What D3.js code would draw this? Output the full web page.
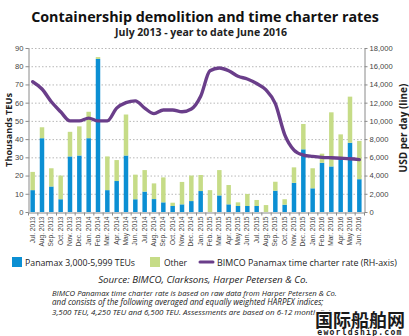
<!doctype html>
<html lang="en">
<head>
<meta charset="UTF-8">
<title>Containership demolition</title>
<style>
  body { margin: 0; background: #fff; }
  svg { display: block; font-family: "Open Sans", "Noto Sans", sans-serif; }
  .grid line { stroke: #b8b8b8; stroke-dasharray: 1.5 2; }
  .axis path, .axis line { stroke: #8a8a8a; }
  .axis text { fill: #444; font-size: 7.6px; }
  .xaxis text { font-size: 6.6px; }
</style>
</head>
<body>
<svg width="409" height="336"></svg>
<script src="https://cdnjs.cloudflare.com/ajax/libs/d3/7.8.5/d3.min.js"></script>
<script>
var months = ['Jul. 2013','Aug. 2013','Sep. 2013','Oct. 2013','Nov. 2013','Dec. 2013',
  'Jan. 2014','Feb. 2014','Mar. 2014','Apr. 2014','May 2014','Jun. 2014',
  'Jul. 2014','Aug. 2014','Sep. 2014','Oct. 2014','Nov. 2014','Dec. 2014',
  'Jan. 2015','Feb. 2015','Mar. 2015','Apr. 2015','May 2015','Jun. 2015',
  'Jul. 2015','Aug. 2015','Sep. 2015','Oct. 2015','Nov. 2015','Dec. 2015',
  'Jan. 2016','Feb. 2016','Mar. 2016','Apr. 2016','May 2016','Jun. 2016'];

// thousands TEUs
var panamax = [12, 40.5, 14, 7, 30.5, 31, 40.5, 84, 12, 17, 31, 7,
  11.2, 7.1, 5.3, 3.3, 4.2, 6, 11.5, 0, 9.1, 4.2, 3.3, 3.3,
  3.3, 0, 11.7, 4, 16, 34.4, 13, 27, 25, 29, 38, 18];
var other = [10, 6, 10, 13, 13.5, 16, 14.5, 1, 18.5, 11.5, 22.5, 13.5,
  11.8, 8.6, 13.7, 1.8, 12.3, 14, 8.8, 12, 13.9, 10.6, 2, 6.6,
  3.3, 3.8, 4.9, 3, 8.5, 13.9, 11, 5, 29.7, 13.6, 25.3, 21];

// USD per day
var rate = [14300, 13500, 12100, 11000, 10000, 10000, 10300, 10000, 10000, 11400, 12000, 12200,
  11400, 10800, 11200, 11200, 11000, 11300, 12700, 15500, 15800, 15500, 14900, 14600,
  14100, 13400, 11900, 8500, 6800, 6250, 6100, 6000, 5950, 5900, 5850, 5750];

var leftTicks = [0, 10, 20, 30, 40, 50, 60, 70, 80, 90];
var rightTicks = [0, 2000, 4000, 6000, 8000, 10000, 12000, 14000, 16000, 18000];

var blue = '#0b8fd3', green = '#c6dc87', purple = '#6a3e8a';

var svg = d3.select('svg');
var plot = { left: 28, right: 364, top: 48, bottom: 212 };

var x = d3.scaleBand().domain(months).range([plot.left, plot.right])
  .paddingInner(0.52).paddingOuter(0.26);
var y = d3.scaleLinear().domain([0, 90]).range([plot.bottom, plot.top]);
var y2 = d3.scaleLinear().domain([0, 18000]).range([plot.bottom, plot.top]);

function fit(sel, w) {
  var n = sel.node(), fs = parseFloat(sel.attr('font-size'));
  var cur = n.getComputedTextLength();
  sel.attr('font-size', (fs * w / cur).toFixed(2));
}

// titles
svg.append('text').attr('x', 205).attr('y', 22).attr('text-anchor', 'middle')
  .attr('font-weight', 'bold').attr('font-size', 15).attr('fill', '#111')
  .text('Containership demolition and time charter rates').call(fit, 348);
svg.append('text').attr('x', 201).attr('y', 36).attr('text-anchor', 'middle')
  .attr('font-weight', 'bold').attr('font-size', 10).attr('fill', '#222')
  .text('July 2013 - year to date June 2016').call(fit, 172);

// grid
svg.append('g').attr('class', 'grid').selectAll('line')
  .data(leftTicks.slice(1)).enter().append('line')
  .attr('x1', plot.left).attr('x2', plot.right)
  .attr('y1', function(d) { return y(d) + 0.5; })
  .attr('y2', function(d) { return y(d) + 0.5; });

// bars
var bw = x.bandwidth();
svg.append('g').selectAll('rect').data(months).enter().append('rect')
  .attr('x', function(d) { return x(d); })
  .attr('width', bw)
  .attr('y', function(d, i) { return y(panamax[i]); })
  .attr('height', function(d, i) { return plot.bottom - y(panamax[i]); })
  .attr('fill', blue);
svg.append('g').selectAll('rect').data(months).enter().append('rect')
  .attr('x', function(d) { return x(d); })
  .attr('width', bw)
  .attr('y', function(d, i) { return y(panamax[i] + other[i]); })
  .attr('height', function(d, i) { return y(panamax[i]) - y(panamax[i] + other[i]); })
  .attr('fill', green);

// axes
svg.append('g').attr('class', 'axis')
  .attr('transform', 'translate(' + (plot.left + 0.5) + ',0)')
  .call(d3.axisLeft(y).tickValues(leftTicks).tickSize(3).tickPadding(2).tickSizeOuter(0));
svg.append('g').attr('class', 'axis')
  .attr('transform', 'translate(' + (plot.right + 0.5) + ',0)')
  .call(d3.axisRight(y2).tickValues(rightTicks).tickSize(3).tickPadding(2).tickSizeOuter(0)
    .tickFormat(d3.format(',')));

var xa = svg.append('g').attr('class', 'axis xaxis')
  .attr('transform', 'translate(0,' + (plot.bottom + 0.5) + ')')
  .call(d3.axisBottom(x).tickSize(0).tickSizeOuter(0).tickPadding(3));
xa.selectAll('.tick text')
  .attr('text-anchor', 'end')
  .attr('dy', '0.32em')
  .attr('x', -4).attr('y', 0)
  .attr('transform', 'rotate(-90)');
// small ticks between months
xa.selectAll('line.sep').data(d3.range(months.length + 1)).enter().append('line')
  .attr('class', 'sep')
  .attr('x1', function(d) { return plot.left + d * x.step() + 0.5; })
  .attr('x2', function(d) { return plot.left + d * x.step() + 0.5; })
  .attr('y1', 0).attr('y2', 3);

// line
var line = d3.line()
  .x(function(d, i) { return x(months[i]) + bw / 2; })
  .y(function(d) { return y2(d); })
  .curve(d3.curveMonotoneX);
svg.append('path').datum(rate).attr('d', line)
  .attr('fill', 'none').attr('stroke', purple).attr('stroke-width', 3.4)
  .attr('stroke-linejoin', 'round').attr('stroke-linecap', 'round');

// axis titles
svg.append('text').attr('transform', 'translate(12,130) rotate(-90)')
  .attr('text-anchor', 'middle').attr('font-weight', 'bold').attr('font-size', 10)
  .attr('fill', '#222').text('Thousands TEUs').call(fit, 74);
svg.append('text').attr('transform', 'translate(407,128) rotate(-90)')
  .attr('text-anchor', 'middle').attr('font-weight', 'bold').attr('font-size', 10)
  .attr('fill', '#222').text('USD per day (line)').call(fit, 89);

// legend
var lg = svg.append('g').attr('fill', '#222');
lg.append('rect').attr('x', 12).attr('y', 257).attr('width', 10).attr('height', 10).attr('fill', blue);
lg.append('text').attr('x', 25).attr('y', 265.5).attr('font-size', 9)
  .text('Panamax 3,000-5,999 TEUs').call(fit, 110);
lg.append('rect').attr('x', 150).attr('y', 257).attr('width', 10).attr('height', 10).attr('fill', green);
lg.append('text').attr('x', 164).attr('y', 265.5).attr('font-size', 9)
  .text('Other').call(fit, 23);
lg.append('line').attr('x1', 200).attr('x2', 213).attr('y1', 262).attr('y2', 262)
  .attr('stroke', purple).attr('stroke-width', 3).attr('stroke-linecap', 'round');
lg.append('text').attr('x', 217).attr('y', 265.5).attr('font-size', 9)
  .text('BIMCO Panamax time charter rate (RH-axis)').call(fit, 180);

// source + notes
svg.append('text').attr('x', 203).attr('y', 283).attr('text-anchor', 'middle')
  .attr('font-style', 'italic').attr('font-size', 9.5).attr('fill', '#222')
  .text('Source: BIMCO, Clarksons, Harper Petersen & Co.').call(fit, 210);

var notes = ['BIMCO Panamax time charter rate is based on raw data from Harper Petersen & Co.',
  'and consists of the following averaged and equally weighted HARPEX indices;',
  '3,500 TEU, 4,250 TEU and 6,500 TEU. Assessments are based on 6-12 month fixtures.'];
var noteW = [285, 272, 296];
notes.forEach(function(t, i) {
  svg.append('text').attr('x', 52).attr('y', 296 + i * 9.4)
    .attr('font-style', 'italic').attr('font-size', 7.5).attr('fill', '#222')
    .text(t).call(fit, noteW[i]);
});

// watermark
svg.append('text').attr('x', 360).attr('y', 327).attr('text-anchor', 'middle')
  .attr('font-family', '"Noto Sans CJK SC", sans-serif').attr('font-weight', 'bold')
  .attr('font-size', 18).attr('fill', '#1a1a1a')
  .attr('stroke', '#fff').attr('stroke-width', 2.5).attr('paint-order', 'stroke')
  .text('国际船舶网').call(fit, 90);
svg.append('text').attr('x', 360).attr('y', 335).attr('text-anchor', 'middle')
  .attr('font-family', '"DejaVu Sans Mono", monospace').attr('font-weight', 'bold')
  .attr('font-size', 7).attr('fill', '#1a1a1a').attr('letter-spacing', 1.2)
  .text('eworldship.com').call(fit, 88);
</script>
</body>
</html>
